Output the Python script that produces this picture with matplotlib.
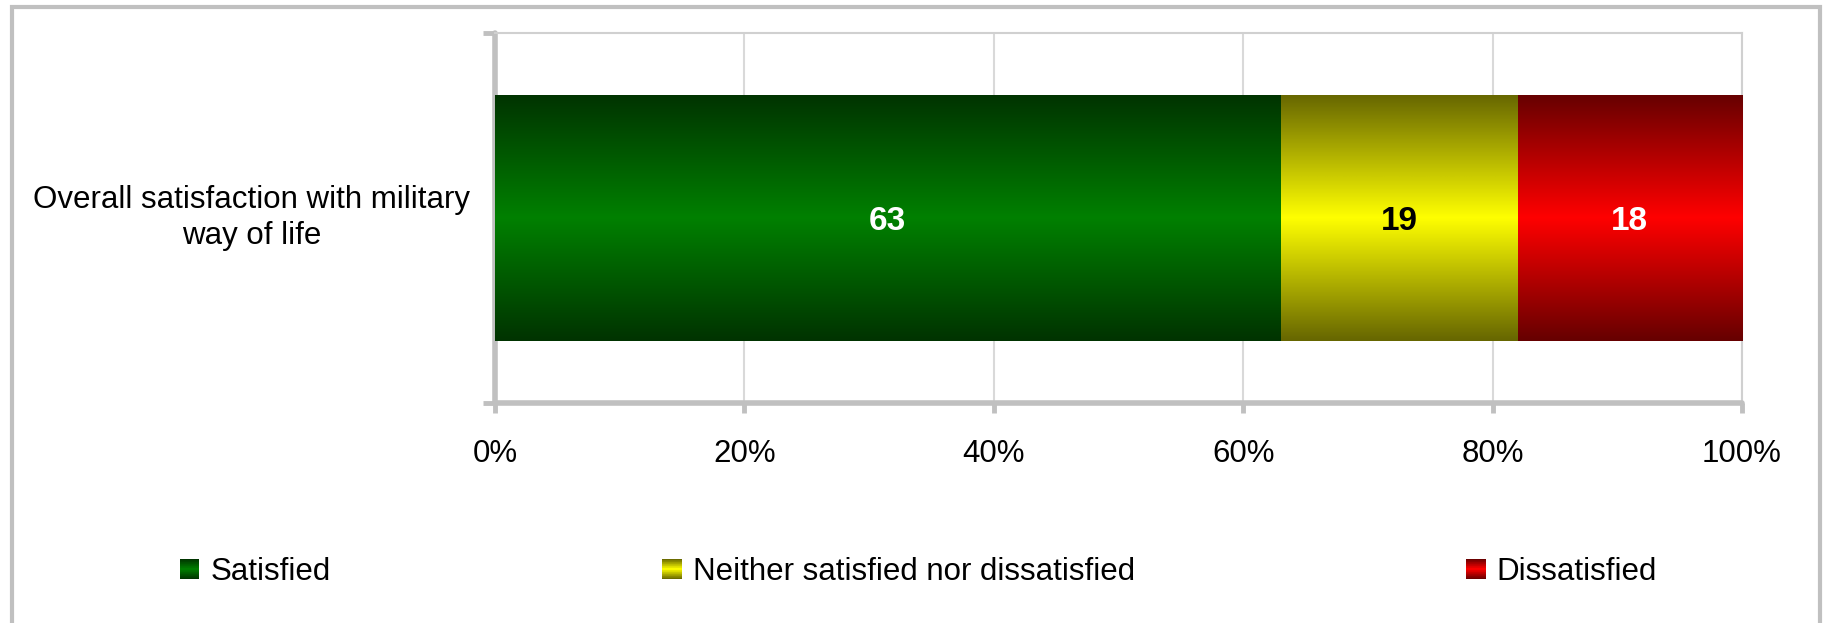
import matplotlib
matplotlib.use('Agg')
import matplotlib.pyplot as plt
import numpy as np
from matplotlib.colors import LinearSegmentedColormap
from matplotlib.patches import Rectangle
from matplotlib.legend_handler import HandlerBase

plt.rcParams['font.family'] = ['Liberation Sans', 'DejaVu Sans']

# data
category = 'Overall satisfaction with military\nway of life'
series = ['Satisfied', 'Neither satisfied nor dissatisfied', 'Dissatisfied']
values = [63, 19, 18]
label_colors = ['white', 'black', 'white']
x_ticks = [0, 20, 40, 60, 80, 100]
x_tick_labels = ['0%', '20%', '40%', '60%', '80%', '100%']

# gradient colours (edge -> middle -> edge)
grad_colors = [('#003300', '#008000'), ('#666600', '#ffff00'), ('#660000', '#ff0000')]
cmaps = [LinearSegmentedColormap.from_list('g%d' % i, [d, b, d]) for i, (d, b) in enumerate(grad_colors)]

fig = plt.figure(figsize=(18.24, 6.23), dpi=100)
# outer chart frame
fig.patches.append(Rectangle((12 / 1824, -0.05), 1808 / 1824, 1.05 - 7 / 623, transform=fig.transFigure,
                             fill=False, edgecolor='#c0c0c0', linewidth=3, zorder=0))

ax = fig.add_axes([495 / 1824, 1 - 403 / 623, (1742 - 495) / 1824, (403 - 33) / 623])

grad = np.linspace(0, 1, 256).reshape(-1, 1)
left = 0
for i, v in enumerate(values):
    bar = ax.barh(0, v, left=left, height=0.667, color=grad_colors[i][1], edgecolor='none', zorder=2)[0]
    im = ax.imshow(grad, cmap=cmaps[i], aspect='auto', origin='lower',
                   extent=[left, left + v, -0.667 / 2, 0.667 / 2], zorder=3)
    im.set_clip_path(bar)
    ax.text(left + v / 2, 0, str(v), ha='center', va='center_baseline', fontsize=24, fontweight='bold',
            color=label_colors[i], zorder=4)
    left += v

ax.set_xlim(0, 100)
ax.set_ylim(-0.5, 0.5)
ax.set_xticks(x_ticks)
ax.set_xticklabels(x_tick_labels, fontsize=22.5)
ax.set_yticks([-0.5, 0.5])
ax.set_yticklabels([])
ax.tick_params(axis='x', length=7, width=3.5, color='#c0c0c0', pad=19)
ax.tick_params(axis='y', length=9, width=3.5, color='#c0c0c0')
ax.grid(axis='x', color='#d9d9d9', linewidth=1.5, zorder=0)
ax.set_axisbelow(True)

for s in ['left', 'bottom']:
    ax.spines[s].set_color('#c0c0c0')
    ax.spines[s].set_linewidth(4)
    ax.spines[s].set_capstyle('round')
for s in ['top', 'right']:
    ax.spines[s].set_color('#d0d0d0')
    ax.spines[s].set_linewidth(1.5)

ax.text(-243 / 1247, 0.5, category, transform=ax.transAxes, ha='center', va='center',
        fontsize=22.5, linespacing=1.3)


class GradientHandler(HandlerBase):
    def __init__(self, cmap):
        super().__init__()
        self.cmap = cmap

    def create_artists(self, legend, orig_handle, xdescent, ydescent, width, height, fontsize, trans):
        n = 30
        arts = []
        for k in range(n):
            c = self.cmap((k + 0.5) / n)
            arts.append(Rectangle((-xdescent, -ydescent + k * height / n), width, height / n * 1.05,
                                  facecolor=c, edgecolor='none', transform=trans))
        return arts


handles = [Rectangle((0, 0), 1, 1, color=grad_colors[i][1]) for i in range(3)]
hmap = {h: GradientHandler(cmaps[i]) for i, h in enumerate(handles)}
fig.legend(handles, series, handler_map=hmap, loc='center left',
           bbox_to_anchor=(180 / 1824, 1 - 572 / 623), ncol=3, frameon=False, fontsize=22.5,
           borderpad=0, borderaxespad=0, handlelength=0.62, handleheight=0.62,
           handletextpad=0.36, columnspacing=10.6)

fig.savefig('out.png', dpi=100)
